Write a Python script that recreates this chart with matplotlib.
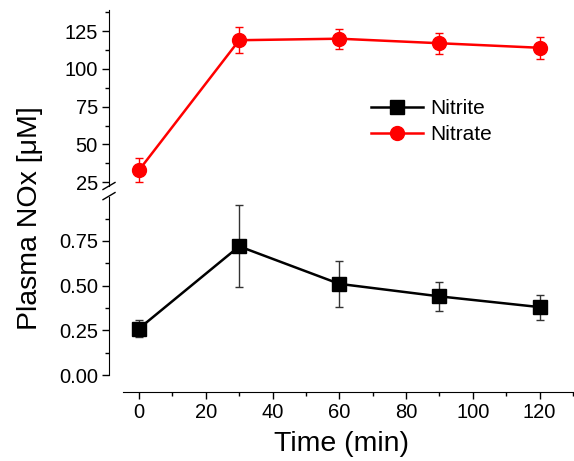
import matplotlib
matplotlib.use('Agg')
import matplotlib.pyplot as plt
from matplotlib.lines import Line2D
from matplotlib.ticker import MultipleLocator

plt.rcParams['font.family'] = ['Liberation Sans', 'DejaVu Sans']

time = [0, 30, 60, 90, 120]
nitrite = [0.26, 0.72, 0.51, 0.44, 0.38]
nitrite_err = [0.05, 0.23, 0.13, 0.08, 0.07]
nitrate = [33, 119, 120, 117, 114]
nitrate_err = [8, 8.5, 6.7, 6.9, 7.2]

W, H = 574, 461
fig = plt.figure(figsize=(W / 100, H / 100), dpi=100)

def px_axes(left, top, right, bottom):
    return fig.add_axes([left / W, 1 - bottom / H, (right - left) / W, (bottom - top) / H])

ax_top = px_axes(109, 10, 573, 186)
ax_bot = px_axes(109, 197, 573, 375)

xlim = (-9, 130)
for ax in (ax_top, ax_bot):
    ax.set_xlim(*xlim)
    ax.spines['top'].set_visible(False)
    ax.spines['right'].set_visible(False)
    ax.patch.set_alpha(0)
    ax.tick_params(axis='y', which='major', direction='out', length=5, width=1, labelsize=14.5, pad=3)
    ax.tick_params(axis='y', which='minor', direction='out', length=3, width=1)

# top panel (nitrate)
ax_top.spines['bottom'].set_visible(False)
ax_top.tick_params(axis='x', which='both', bottom=False, labelbottom=False)
ax_top.set_ylim(22.5, 139)
ax_top.yaxis.set_major_locator(MultipleLocator(25))
ax_top.yaxis.set_minor_locator(MultipleLocator(12.5))
ax_top.set_yticks([25, 50, 75, 100, 125])

# bottom panel (nitrite)
ax_bot.set_ylim(0, 0.996)
ax_bot.yaxis.set_major_locator(MultipleLocator(0.25))
ax_bot.yaxis.set_minor_locator(MultipleLocator(0.125))
ax_bot.yaxis.set_major_formatter(plt.FormatStrFormatter('%.2f'))
ax_bot.set_yticks([0, 0.25, 0.5, 0.75])
ax_bot.spines['bottom'].set_position(('outward', 12))
ax_bot.spines['bottom'].set_bounds(-4.8, 130)
ax_bot.set_xticks([0, 20, 40, 60, 80, 100, 120])
ax_bot.xaxis.set_minor_locator(MultipleLocator(10))
ax_bot.tick_params(axis='x', which='major', direction='out', length=5, width=1, labelsize=14.5, pad=3)
ax_bot.tick_params(axis='x', which='minor', direction='out', length=3, width=1)

ax_bot.errorbar(time, nitrite, yerr=nitrite_err, color='black', marker='s', ms=9.5,
                lw=1.8, elinewidth=1, capsize=3, ecolor='#333333', clip_on=False)
ax_top.errorbar(time, nitrate, yerr=nitrate_err, color='red', marker='o', ms=10,
                lw=1.8, elinewidth=1, capsize=3, clip_on=False)

handles = [Line2D([], [], color='black', marker='s', ms=9.5, lw=1.8),
           Line2D([], [], color='red', marker='o', ms=10, lw=1.8)]
ax_top.legend(handles, ['Nitrite', 'Nitrate'], loc='upper left', bbox_to_anchor=(0.525, 0.6),
              frameon=False, fontsize=15, handlelength=2.5, handletextpad=0.35, labelspacing=0.35)

# break marks
kw = dict(color='black', lw=1, clip_on=False)
dx = 6 / 464
ax_top.plot([-dx, dx], [-0.02, 0.02], transform=ax_top.transAxes, **kw)
ax_bot.plot([-dx, dx], [0.985, 1.025], transform=ax_bot.transAxes, **kw)

fig.text(30 / W, 1 - 218 / H, 'Plasma NOx [μM]', rotation=90, ha='center', va='center', fontsize=20.5)
fig.text(341 / W, 1 - 444 / H, 'Time (min)', ha='center', va='center', fontsize=20.5)

fig.savefig('out.png', dpi=100)
